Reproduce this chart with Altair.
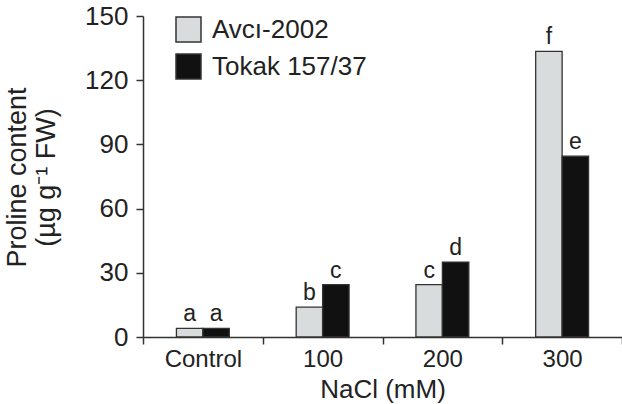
import altair as alt
import pandas as pd

categories = ["Control", "100", "200", "300"]
series_names = ["Avcı-2002", "Tokak 157/37"]
avci_values = [4, 14, 24.5, 133.5]
tokak_values = [4, 24.5, 35, 84.5]
avci_letters = ["a", "b", "c", "f"]
tokak_letters = ["a", "c", "d", "e"]
y_ticks = [0, 30, 60, 90, 120, 150]

rows = []
for c, v, l in zip(categories, avci_values, avci_letters):
    rows.append({"cat": c, "series": series_names[0], "value": v, "letter": l})
for c, v, l in zip(categories, tokak_values, tokak_letters):
    rows.append({"cat": c, "series": series_names[1], "value": v, "letter": l})
df = pd.DataFrame(rows)

FONT = "Liberation Sans"

# offset slots: empty slot, two series, empty slot (keeps the bar pair narrow and centred)
offset_domain = ["_left", series_names[0], series_names[1], "_right"]
offset_scale = alt.Scale(domain=offset_domain, paddingInner=0, paddingOuter=0.264)

x_enc = alt.X(
    "cat:N",
    sort=categories,
    scale=alt.Scale(paddingInner=0, paddingOuter=0),
    axis=alt.Axis(
        title="NaCl (mM)",
        labelAngle=0,
        labelFontSize=24,
        labelColor="#222",
        labelPadding=3,
        tickBand="extent",
        tickSize=7,
        tickColor="#333",
        tickWidth=1.5,
        domainColor="#333",
        domainWidth=1.5,
        titleFontSize=26,
        titleFontWeight="normal",
        titleColor="#222",
        titleBaseline="alphabetic",
        titleY=60,
    ),
)
y_enc = alt.Y(
    "value:Q",
    scale=alt.Scale(domain=[0, 150], nice=False),
    axis=alt.Axis(
        values=y_ticks,
        grid=False,
        labelFontSize=26,
        labelColor="#222",
        labelPadding=8,
        tickSize=7,
        tickColor="#333",
        tickWidth=1.5,
        domainColor="#333",
        domainWidth=1.5,
        title=["Proline content", "(µg g⁻¹ FW)"],
        titleFontSize=27,
        titleFontWeight="normal",
        titleColor="#222",
        titleAngle=-90,
        titleAlign="center",
        titleBaseline="alphabetic",
        titleLineHeight=29,
        titleX=-118,
        titleY=161,
    ),
)

bars = alt.Chart(df).mark_bar(stroke="#333", strokeWidth=1.3).encode(
    x=x_enc,
    xOffset=alt.XOffset("series:N", scale=offset_scale),
    y=y_enc,
    color=alt.Color(
        "series:N",
        sort=series_names,
        scale=alt.Scale(domain=series_names, range=["#d9dcdc", "#111111"]),
        legend=alt.Legend(
            title=None,
            orient="none",
            legendX=32,
            legendY=0,
            symbolType="square",
            symbolSize=625,
            symbolStrokeColor="#333",
            symbolStrokeWidth=1.5,
            labelFontSize=26,
            labelColor="#222",
            labelOffset=10,
            rowPadding=6,
            labelFont=FONT,
        ),
    ),
)

labels = alt.Chart(df).mark_text(
    baseline="alphabetic", dy=-7, fontSize=23, color="#222", font=FONT
).encode(
    x=alt.X("cat:N", sort=categories),
    xOffset=alt.XOffset("series:N", scale=offset_scale),
    y="value:Q",
    text="letter:N",
)

chart = (
    alt.layer(bars, labels)
    .properties(
        width=479,
        height=321,
        autosize=alt.AutoSizeParams(type="none"),
        padding={"left": 143, "top": 16, "right": 0, "bottom": 67},
    )
    .configure(font=FONT)
    .configure_view(stroke=None)
)

chart.save("out.html", embed_options={"renderer": "svg", "actions": False})
